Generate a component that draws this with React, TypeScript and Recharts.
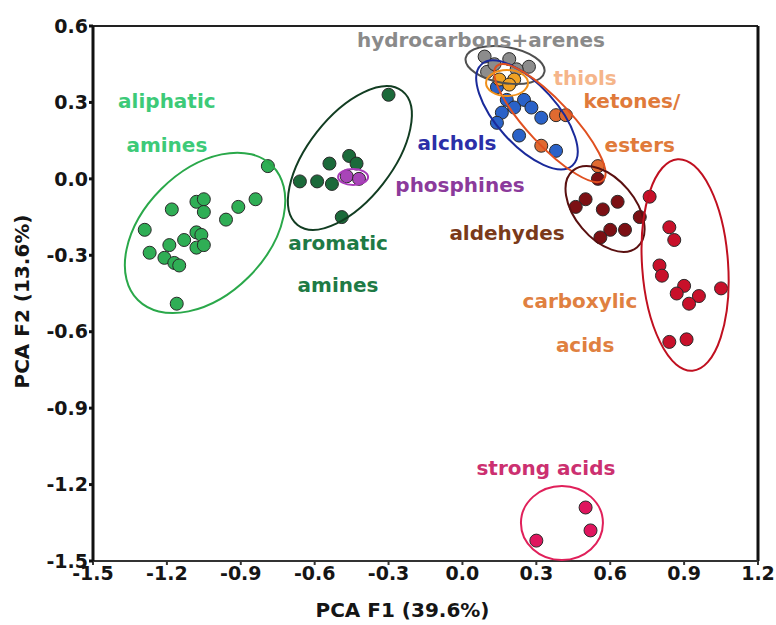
import React from 'react';
import {
  ScatterChart,
  Scatter,
  XAxis,
  YAxis,
  ReferenceDot,
  ReferenceLine,
  Label,
} from 'recharts';

// PCA scores per chemical class
const aliphaticAmines = [
  { x: -0.79, y: 0.05 }, { x: -0.84, y: -0.08 }, { x: -0.91, y: -0.11 },
  { x: -0.96, y: -0.16 }, { x: -1.08, y: -0.09 }, { x: -1.05, y: -0.08 },
  { x: -1.05, y: -0.13 }, { x: -1.18, y: -0.12 }, { x: -1.29, y: -0.2 },
  { x: -1.08, y: -0.21 }, { x: -1.06, y: -0.22 }, { x: -1.13, y: -0.24 },
  { x: -1.19, y: -0.26 }, { x: -1.08, y: -0.27 }, { x: -1.05, y: -0.26 },
  { x: -1.27, y: -0.29 }, { x: -1.21, y: -0.31 }, { x: -1.17, y: -0.33 },
  { x: -1.15, y: -0.34 }, { x: -1.16, y: -0.49 },
];
const aromaticAmines = [
  { x: -0.3, y: 0.33 }, { x: -0.46, y: 0.09 }, { x: -0.43, y: 0.06 },
  { x: -0.54, y: 0.06 }, { x: -0.66, y: -0.01 }, { x: -0.59, y: -0.01 },
  { x: -0.53, y: -0.02 }, { x: -0.49, y: -0.15 },
];
const phosphines = [{ x: -0.47, y: 0.01 }, { x: -0.42, y: 0.0 }];
const hydrocarbons = [
  { x: 0.09, y: 0.48 }, { x: 0.19, y: 0.47 }, { x: 0.27, y: 0.44 },
  { x: 0.1, y: 0.42 }, { x: 0.13, y: 0.45 }, { x: 0.22, y: 0.43 },
];
const alcohols = [
  { x: 0.14, y: 0.36 }, { x: 0.18, y: 0.31 }, { x: 0.25, y: 0.31 },
  { x: 0.28, y: 0.28 }, { x: 0.21, y: 0.28 }, { x: 0.16, y: 0.26 },
  { x: 0.14, y: 0.22 }, { x: 0.32, y: 0.24 }, { x: 0.23, y: 0.17 },
  { x: 0.38, y: 0.11 },
];
const thiols = [{ x: 0.15, y: 0.39 }, { x: 0.21, y: 0.39 }, { x: 0.19, y: 0.37 }];
const ketonesEsters = [
  { x: 0.38, y: 0.25 }, { x: 0.42, y: 0.25 }, { x: 0.32, y: 0.13 }, { x: 0.55, y: 0.05 },
];
const aldehydes = [
  { x: 0.55, y: 0.0 }, { x: 0.5, y: -0.08 }, { x: 0.46, y: -0.11 },
  { x: 0.57, y: -0.12 }, { x: 0.63, y: -0.09 }, { x: 0.72, y: -0.15 },
  { x: 0.6, y: -0.2 }, { x: 0.66, y: -0.2 }, { x: 0.56, y: -0.23 },
];
const carboxylicAcids = [
  { x: 0.76, y: -0.07 }, { x: 0.84, y: -0.19 }, { x: 0.86, y: -0.24 },
  { x: 0.8, y: -0.34 }, { x: 0.81, y: -0.38 }, { x: 0.9, y: -0.42 },
  { x: 0.87, y: -0.45 }, { x: 0.96, y: -0.46 }, { x: 0.92, y: -0.49 },
  { x: 1.05, y: -0.43 }, { x: 0.84, y: -0.64 }, { x: 0.91, y: -0.63 },
];
const strongAcids = [{ x: 0.5, y: -1.29 }, { x: 0.52, y: -1.38 }, { x: 0.3, y: -1.42 }];

const xTicks = [-1.5, -1.2, -0.9, -0.6, -0.3, 0, 0.3, 0.6, 0.9, 1.2];
const yTicks = [-1.5, -1.2, -0.9, -0.6, -0.3, 0, 0.3, 0.6];

const FONT = '"DejaVu Sans", sans-serif';

const series = [
  { name: 'aliphatic amines', data: aliphaticAmines, color: '#2fae55' },
  { name: 'aromatic amines', data: aromaticAmines, color: '#1b6a3a' },
  { name: 'phosphines', data: phosphines, color: '#a845b8' },
  { name: 'hydrocarbons+arenes', data: hydrocarbons, color: '#8c8c8c' },
  { name: 'alchols', data: alcohols, color: '#2a62c8' },
  { name: 'thiols', data: thiols, color: '#f0a224' },
  { name: 'ketones/esters', data: ketonesEsters, color: '#e06a30' },
  { name: 'aldehydes', data: aldehydes, color: '#7c1014' },
  { name: 'carboxylic acids', data: carboxylicAcids, color: '#c8102a' },
  { name: 'strong acids', data: strongAcids, color: '#e0155e' },
];

// cluster outlines: centre in data units, semi-axes in px, rotation in deg
const ellipses = [
  { x: -1.045, y: -0.212, rx: 95, ry: 62, rot: -45, color: '#2aa84a' },
  { x: -0.457, y: 0.082, rx: 85, ry: 42, rot: -52, color: '#123d22' },
  { x: -0.444, y: 0.007, rx: 15, ry: 8, rot: 0, color: '#a83bb8' },
  { x: 0.173, y: 0.447, rx: 40, ry: 18, rot: 10, color: '#505050' },
  { x: 0.262, y: 0.251, rx: 68, ry: 30, rot: 48, color: '#1a2a9a' },
  { x: 0.355, y: 0.219, rx: 78, ry: 22, rot: 47, color: '#e05020' },
  { x: 0.181, y: 0.376, rx: 21, ry: 13, rot: 0, color: '#f0901a' },
  { x: 0.579, y: -0.118, rx: 50, ry: 30, rot: 50, color: '#5a1010' },
  { x: 0.904, y: -0.338, rx: 106, ry: 43, rot: 86, color: '#c01020' },
  { x: 0.404, y: -1.351, rx: 41, ry: 37, rot: 0, color: '#e0205a' },
];

const labels = [
  { x: 0.075, y: 0.545, text: 'hydrocarbons+arenes', color: '#8a8a8a' },
  { x: -1.2, y: 0.306, text: 'aliphatic', color: '#3dca78' },
  { x: -1.2, y: 0.133, text: 'amines', color: '#3dca78' },
  { x: -0.505, y: -0.252, text: 'aromatic', color: '#1e7a45' },
  { x: -0.505, y: -0.416, text: 'amines', color: '#1e7a45' },
  { x: -0.022, y: 0.141, text: 'alchols', color: '#2b2fa8' },
  { x: -0.01, y: -0.024, text: 'phosphines', color: '#8b3a9b' },
  { x: 0.498, y: 0.396, text: 'thiols', color: '#f5b58a' },
  { x: 0.688, y: 0.306, text: 'ketones/', color: '#e07a3a' },
  { x: 0.72, y: 0.133, text: 'esters', color: '#e07a3a' },
  { x: 0.181, y: -0.212, text: 'aldehydes', color: '#7a3a1a' },
  { x: 0.477, y: -0.479, text: 'carboxylic', color: '#e08040' },
  { x: 0.498, y: -0.652, text: 'acids', color: '#e08040' },
  { x: 0.339, y: -1.135, text: 'strong acids', color: '#cc3070' },
];

const tickStyle = { fontFamily: FONT, fontSize: 19, fontWeight: 'bold', fill: '#151515' };
const fmt = (v: number) => v.toFixed(1);

export default function App() {
  return (
    <div
      style={{
        position: 'absolute',
        top: 0,
        left: 0,
        width: 776,
        height: 625,
        fontFamily: FONT,
      }}
    >
      <ScatterChart
        width={776}
        height={625}
        margin={{ top: 26, right: 18, bottom: 4, left: 38 }}
        style={{ overflow: 'visible' }}
      >
        <XAxis
          type="number"
          dataKey="x"
          domain={[-1.5, 1.2]}
          ticks={xTicks}
          tickFormatter={fmt}
          allowDataOverflow
          height={60}
          stroke="#333"
          strokeWidth={2}
          tickSize={4}
          tickMargin={2}
          tick={tickStyle}
        >
          <Label
            content={({ viewBox }: any) => (
              <text
                x={viewBox.x + viewBox.width / 2 - 23}
                y={viewBox.y + 56}
                textAnchor="middle"
                fontFamily={FONT}
                fontSize={20}
                fontWeight="bold"
                fill="#151515"
              >
                PCA F1 (39.6%)
              </text>
            )}
          />
        </XAxis>
        <YAxis
          type="number"
          dataKey="y"
          domain={[-1.5, 0.6]}
          ticks={yTicks}
          tickFormatter={fmt}
          allowDataOverflow
          width={55}
          stroke="#111"
          strokeWidth={3}
          tickSize={4}
          tickMargin={1}
          tick={tickStyle}
        >
          <Label
            content={({ viewBox }: any) => {
              const cx = viewBox.x - 16;
              const cy = viewBox.y + viewBox.height / 2 + 8;
              return (
                <text
                  x={cx}
                  y={cy}
                  transform={`rotate(-90 ${cx} ${cy})`}
                  textAnchor="middle"
                  dominantBaseline="central"
                  fontFamily={FONT}
                  fontSize={20}
                  fontWeight="bold"
                  fill="#151515"
                >
                  PCA F2 (13.6%)
                </text>
              );
            }}
          />
        </YAxis>
        <ReferenceLine y={0.6} stroke="#222" strokeWidth={2} />
        <ReferenceLine x={1.2} stroke="#111" strokeWidth={3} />

        {series.map((s) => (
          <Scatter
            key={s.name}
            name={s.name}
            data={s.data}
            isAnimationActive={false}
            shape={(p: any) => (
              <circle
                cx={p.cx}
                cy={p.cy}
                r={6.5}
                fill={s.color}
                stroke="#2a2a2a"
                strokeWidth={1}
              />
            )}
          />
        ))}

        {ellipses.map((e, i) => (
          <ReferenceDot
            key={`ell-${i}`}
            x={e.x}
            y={e.y}
            ifOverflow="visible"
            shape={(p: any) => (
              <ellipse
                cx={p.cx}
                cy={p.cy}
                rx={e.rx}
                ry={e.ry}
                transform={`rotate(${e.rot} ${p.cx} ${p.cy})`}
                fill="none"
                stroke={e.color}
                strokeWidth={2}
              />
            )}
          />
        ))}

        {labels.map((l, i) => (
          <ReferenceDot
            key={`lab-${i}`}
            x={l.x}
            y={l.y}
            ifOverflow="visible"
            shape={(p: any) => (
              <text
                x={p.cx}
                y={p.cy}
                textAnchor="middle"
                dominantBaseline="central"
                fontFamily={FONT}
                fontSize={20}
                fontWeight="bold"
                fill={l.color}
              >
                {l.text}
              </text>
            )}
          />
        ))}
      </ScatterChart>
    </div>
  );
}
